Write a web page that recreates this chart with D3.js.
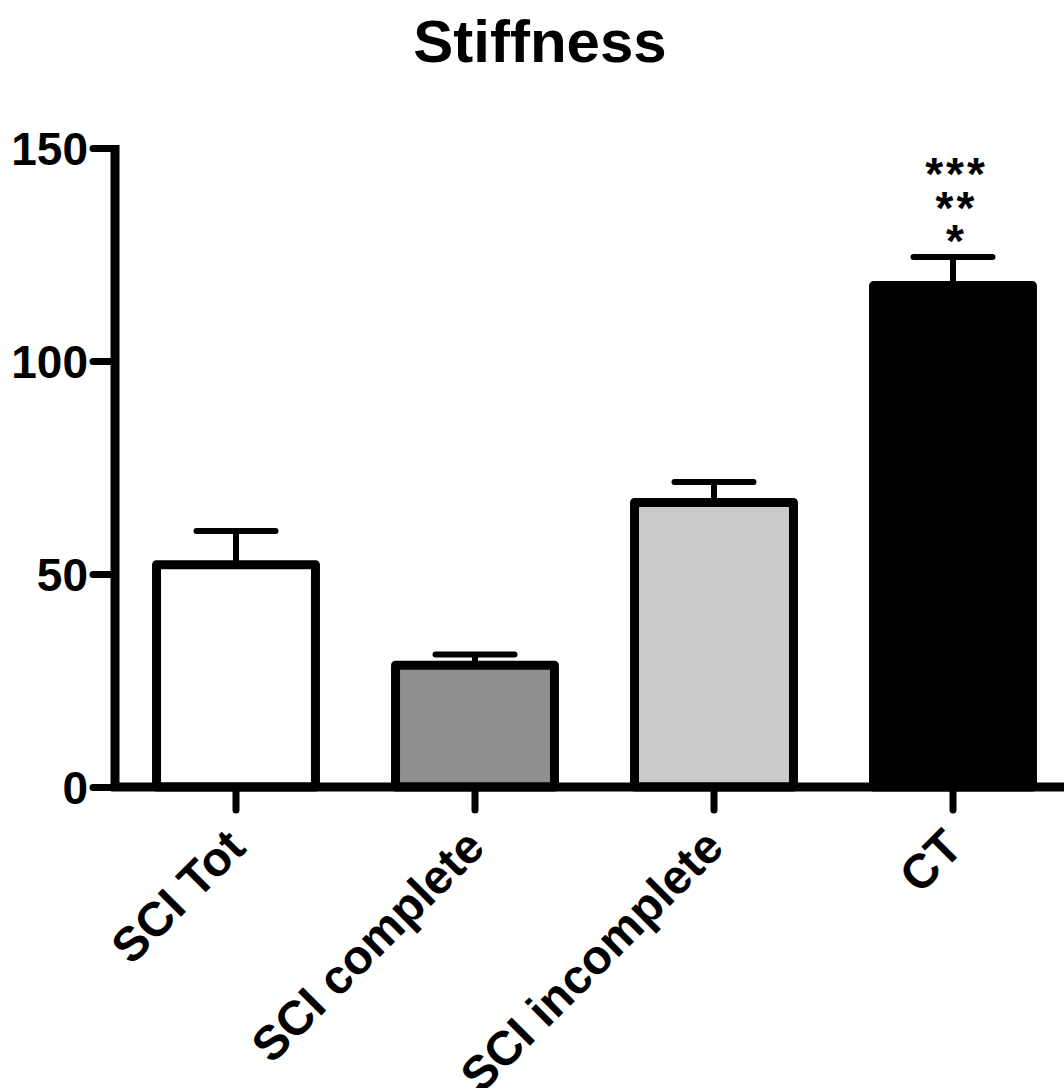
<!DOCTYPE html>
<html>
<head>
<meta charset="utf-8">
<script src="https://cdn.jsdelivr.net/npm/d3@7"></script>
<style>
  html, body { margin: 0; padding: 0; background: #fff; }
  svg { display: block; }
  text { font-family: "Liberation Sans", Arial, Helvetica, sans-serif; }
</style>
</head>
<body>
<svg id="chart" width="1064" height="1088"></svg>
<script>
const categories = ["SCI Tot", "SCI complete", "SCI incomplete", "CT"];
const means = [52.2, 28.6, 66.8, 117.7];
const sems = [7.9, 2.5, 4.8, 6.7];
const fills = ["#ffffff", "#8f8f8f", "#cbcbcb", "#000000"];
const yTicks = [0, 50, 100, 150];
const significance = ["***", "**", "*"];
const title = "Stiffness";

const W = 1064, H = 1088;
const svg = d3.select("#chart");

const y = d3.scaleLinear().domain([0, 150]).range([787, 148]);
const x = d3.scaleBand().domain(categories).range([116.5, 1072.5])
  .paddingInner(0.335).paddingOuter(0.1675);

// title
svg.append("text")
  .attr("x", 540).attr("y", 62)
  .attr("text-anchor", "middle")
  .attr("font-size", 60).attr("font-weight", "bold")
  .text(title);

// bars
const g = svg.append("g");
g.selectAll("rect.bar").data(categories).join("rect")
  .attr("class", "bar")
  .attr("x", d => x(d))
  .attr("width", x.bandwidth())
  .attr("y", (d, i) => y(means[i]))
  .attr("height", (d, i) => y(0) - y(means[i]))
  .attr("fill", (d, i) => fills[i])
  .attr("stroke", "#000")
  .attr("stroke-width", 9)
  .attr("stroke-linejoin", "round");

// error bars
const cx = d => x(d) + x.bandwidth() / 2;
g.selectAll("line.err").data(categories).join("line")
  .attr("class", "err")
  .attr("x1", cx).attr("x2", cx)
  .attr("y1", (d, i) => y(means[i]))
  .attr("y2", (d, i) => y(means[i] + sems[i]))
  .attr("stroke", "#000").attr("stroke-width", 6);
g.selectAll("line.cap").data(categories).join("line")
  .attr("class", "cap")
  .attr("x1", d => cx(d) - 39.5).attr("x2", d => cx(d) + 39.5)
  .attr("y1", (d, i) => y(means[i] + sems[i]))
  .attr("y2", (d, i) => y(means[i] + sems[i]))
  .attr("stroke", "#000").attr("stroke-width", 6)
  .attr("stroke-linecap", "round");

// y axis
const yAxis = d3.axisLeft(y).tickValues(yTicks).tickSize(22).tickSizeOuter(0).tickPadding(5);
const ya = svg.append("g").attr("transform", "translate(115,0)").call(yAxis);
ya.select(".domain").remove();
ya.selectAll(".tick line").attr("stroke", "#000").attr("stroke-width", 7).attr("stroke-linecap", "round");
ya.selectAll(".tick text").attr("font-size", 46).attr("font-weight", "bold")
  .attr("font-family", "'Liberation Sans', Arial, sans-serif").attr("fill", "#000").attr("dy", "0.36em");
svg.append("line")
  .attr("x1", 115).attr("x2", 115)
  .attr("y1", y(150) - 3).attr("y2", y(0) + 4)
  .attr("stroke", "#000").attr("stroke-width", 9);

// x axis
const xAxis = d3.axisBottom(x).tickSize(23).tickSizeOuter(0).tickFormat("");
const xa = svg.append("g").attr("transform", `translate(0,${y(0)})`).call(xAxis);
xa.select(".domain").remove();
xa.selectAll(".tick line").attr("stroke", "#000").attr("stroke-width", 7).attr("stroke-linecap", "round");
svg.append("line")
  .attr("x1", 111).attr("x2", W)
  .attr("y1", y(0)).attr("y2", y(0))
  .attr("stroke", "#000").attr("stroke-width", 9);

// x labels rotated
svg.append("g").selectAll("text").data(categories).join("text")
  .attr("transform", d => `translate(${cx(d)},838) rotate(-45)`)
  .attr("text-anchor", "end")
  .attr("dy", "0.35em")
  .attr("font-size", 48).attr("font-weight", "bold")
  .text(d => d);

// significance marks above CT (one text block, one line per mark)
const ct = categories[3];
const sig = svg.append("text")
  .attr("text-anchor", "middle")
  .attr("font-size", 46).attr("font-weight", "bold")
  .attr("letter-spacing", 3)
  .attr("y", 190);
sig.selectAll("tspan").data(significance).join("tspan")
  .attr("x", cx(ct) + 3.5)
  .attr("dy", (d, i) => i === 0 ? 0 : 33.5)
  .text(d => d);
</script>
</body>
</html>
